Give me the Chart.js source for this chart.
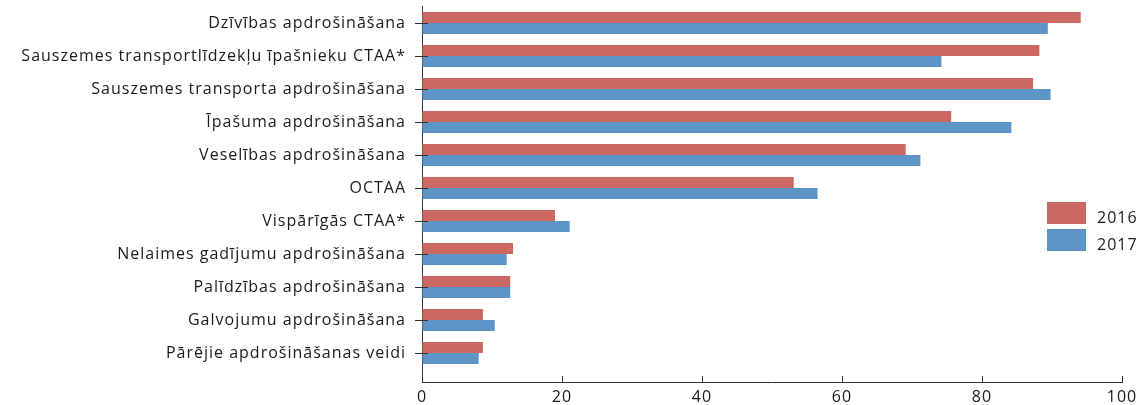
<!DOCTYPE html>
<html lang="lv">
<head>
<meta charset="utf-8">
<title>Apdrošināšanas veidi</title>
<script src="https://cdn.jsdelivr.net/npm/chart.js@4.4.0/dist/chart.umd.min.js"></script>
<style>
    html, body { margin: 0; padding: 0; background: #ffffff; }
    #wrap { width: 1138px; height: 405px; }
</style>
</head>
<body>
<div id="wrap"><canvas id="chart" width="1138" height="405"></canvas></div>
<script>
// Data
const categories = [
    'Dzīvības apdrošināšana',
    'Sauszemes transportlīdzekļu īpašnieku CTAA*',
    'Sauszemes transporta apdrošināšana',
    'Īpašuma apdrošināšana',
    'Veselības apdrošināšana',
    'OCTAA',
    'Vispārīgās CTAA*',
    'Nelaimes gadījumu apdrošināšana',
    'Palīdzības apdrošināšana',
    'Galvojumu apdrošināšana',
    'Pārējie apdrošināšanas veidi'
];
const values2016 = [94.1, 88.2, 87.3, 75.6, 69.1, 53.1, 19.0, 13.0, 12.6, 8.7, 8.7];
const values2017 = [89.4, 74.2, 89.8, 84.2, 71.2, 56.5, 21.1, 12.1, 12.6, 10.4, 8.1];
const seriesLabels = ['2016', '2017'];
const xTicks = [0, 20, 40, 60, 80, 100];

const colors = ['#cb6862', '#5e95c7'];
const fontFamily = '"Open Sans", "Noto Sans", sans-serif';
const fontSize = 16;
const textColor = '#1a1a1a';
const axisColor = '#333333';

function toPoints(values) {
    return values.map((v, i) => ({ x: v, y: i }));
}

// Wider tracking for all canvas text
const tracking = {
    id: 'tracking',
    beforeDraw(chart) {
        chart.ctx.letterSpacing = '1px';
    }
};

// Short tick marks: x ticks point inward, y ticks cross the spine
const tickMarks = {
    id: 'tickMarks',
    afterDraw(chart) {
        const ctx = chart.ctx;
        const xs = chart.scales.x;
        const ys = chart.scales.y;
        ctx.save();
        ctx.strokeStyle = axisColor;
        ctx.lineWidth = 1;
        ctx.beginPath();
        xs.ticks.forEach(t => {
            const px = Math.round(xs.getPixelForValue(t.value)) + 0.5;
            ctx.moveTo(px, xs.top);
            ctx.lineTo(px, xs.top - 6);
        });
        ys.ticks.forEach(t => {
            const py = Math.round(ys.getPixelForValue(t.value)) + 0.5;
            ctx.moveTo(ys.right - 7, py);
            ctx.lineTo(ys.right + 6, py);
        });
        ctx.stroke();
        ctx.restore();
    }
};

// Legend drawn inside the plot, right side
const insideLegend = {
    id: 'insideLegend',
    afterDraw(chart) {
        const ctx = chart.ctx;
        ctx.save();
        ctx.font = fontSize + 'px ' + fontFamily;
        ctx.textBaseline = 'alphabetic';
        ctx.textAlign = 'left';
        chart.data.datasets.forEach((ds, i) => {
            const top = 202 + i * 27;
            ctx.fillStyle = ds.backgroundColor;
            ctx.fillRect(1047, top, 39, 22);
            ctx.fillStyle = textColor;
            ctx.fillText(ds.label, 1097, top + 21);
        });
        ctx.restore();
    }
};

const ctx = document.getElementById('chart').getContext('2d');
new Chart(ctx, {
    type: 'bar',
    data: {
        datasets: [
            {
                label: seriesLabels[0],
                data: toPoints(values2016),
                backgroundColor: colors[0],
                borderWidth: 0
            },
            {
                label: seriesLabels[1],
                data: toPoints(values2017),
                backgroundColor: colors[1],
                borderWidth: 0
            }
        ]
    },
    options: {
        indexAxis: 'y',
        responsive: false,
        animation: false,
        categoryPercentage: 0.667,
        barPercentage: 1,
        layout: { padding: { top: 6, right: 16, left: 0, bottom: 0 } },
        plugins: {
            legend: { display: false },
            tooltip: { enabled: false }
        },
        scales: {
            x: {
                type: 'linear',
                min: 0,
                max: 100,
                offset: false,
                afterBuildTicks: scale => {
                    scale.ticks = xTicks.map(v => ({ value: v }));
                },
                afterFit: scale => {
                    scale.height = 23;
                    scale.paddingLeft = 0;
                    scale.paddingRight = 0;
                },
                grid: { drawOnChartArea: false, drawTicks: false, offset: false },
                border: { display: true, color: axisColor, width: 1 },
                ticks: {
                    color: textColor,
                    padding: 6,
                    maxRotation: 0,
                    font: { family: fontFamily, size: fontSize }
                }
            },
            y: {
                type: 'linear',
                reverse: true,
                offset: false,
                min: -0.515,
                max: 10.88,
                afterBuildTicks: scale => {
                    scale.ticks = categories.map((c, i) => ({ value: i }));
                },
                afterFit: scale => {
                    scale.width = 422;
                    scale.paddingTop = 0;
                    scale.paddingBottom = 0;
                },
                grid: { drawOnChartArea: false, drawTicks: false, offset: false },
                border: { display: true, color: axisColor, width: 1 },
                ticks: {
                    color: textColor,
                    padding: 16,
                    autoSkip: false,
                    font: { family: fontFamily, size: fontSize },
                    callback: value => categories[value]
                }
            }
        }
    },
    plugins: [tracking, tickMarks, insideLegend]
});
</script>
</body>
</html>
